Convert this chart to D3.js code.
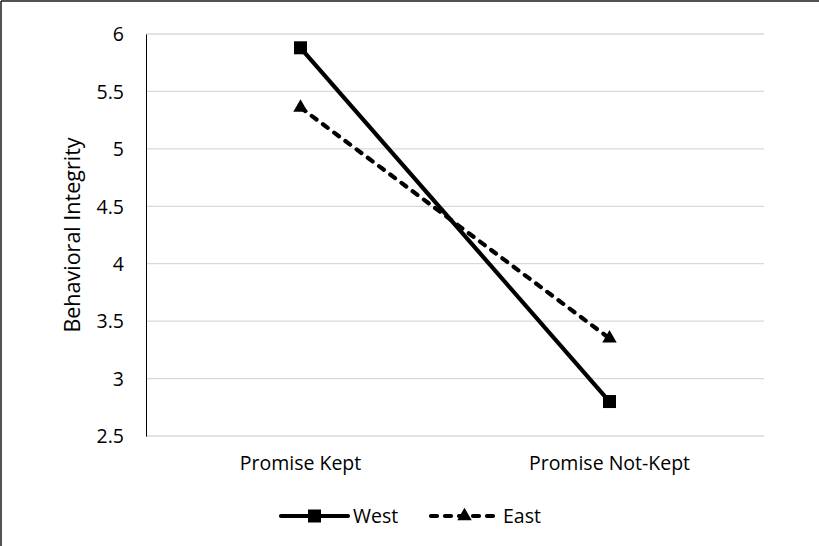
<!DOCTYPE html>
<html><head><meta charset="utf-8">
<script src="https://cdn.jsdelivr.net/npm/d3@7"></script>
<style>
html,body{margin:0;padding:0;background:#fff;}
svg text{font-family:"Open Sans",Lato,sans-serif;fill:#000;}
</style></head>
<body>
<svg id="chart" width="819" height="546"></svg>
<script>
const categories = ["Promise Kept", "Promise Not-Kept"];
const seriesNames = ["West", "East"];
const westValues = [5.88, 2.8];
const eastValues = [5.36, 3.35];
const yTicks = [2.5, 3, 3.5, 4, 4.5, 5, 5.5, 6];
const yTitle = "Behavioral Integrity";

const svg = d3.select("#chart");
const W = 819, H = 546;
const m = {left:146, right:55, top:34, bottom:110};
const FS = "19.5px";

// chart border (top and left visible)
svg.append("line").attr("x1",1).attr("x2",W).attr("y1",1).attr("y2",1).attr("stroke","#1a1a1a").attr("stroke-width",1.5);
svg.append("line").attr("x1",1).attr("x2",1).attr("y1",1).attr("y2",H).attr("stroke","#1a1a1a").attr("stroke-width",1.5);

const x = d3.scaleBand().domain(categories).range([m.left, W-m.right]);
const y = d3.scaleLinear().domain([2.5, 6]).range([H-m.bottom, m.top]);

// gridlines
svg.append("g").selectAll("line").data(yTicks).join("line")
  .attr("x1", m.left).attr("x2", W-m.right)
  .attr("y1", d=>y(d)).attr("y2", d=>y(d))
  .attr("stroke","#d9d9d9").attr("stroke-width",1.3);

// y axis
const yAxis = svg.append("g").attr("transform",`translate(${m.left},0)`)
  .call(d3.axisLeft(y).tickValues(yTicks).tickSize(0).tickPadding(22).tickFormat(d=>String(d)));
yAxis.select(".domain").attr("stroke","#000").attr("stroke-width",1);
yAxis.selectAll("text").style("font-size",FS).attr("dy","0.35em");

// x axis labels
const xAxis = svg.append("g").attr("transform",`translate(0,${H-m.bottom})`)
  .call(d3.axisBottom(x).tickSize(0).tickPadding(20));
xAxis.select(".domain").remove();
xAxis.selectAll("text").style("font-size",FS);

// y title
svg.append("text").attr("transform",`translate(80,${(y(2.5)+y(6))/2}) rotate(-90)`)
  .attr("text-anchor","middle").style("font-size","21.5px").text(yTitle);

const cx = d => x(d) + x.bandwidth()/2;
const line = d3.line().x(d=>cx(d.c)).y(d=>y(d.v));
const westData = categories.map((c,i)=>({c, v:westValues[i]}));
const eastData = categories.map((c,i)=>({c, v:eastValues[i]}));

svg.append("path").datum(eastData).attr("d",line).attr("fill","none")
  .attr("stroke","#000").attr("stroke-width",4.2).attr("stroke-linecap","round")
  .attr("stroke-dasharray","6,8");
svg.append("path").datum(westData).attr("d",line).attr("fill","none")
  .attr("stroke","#000").attr("stroke-width",4.2);

const sq = d3.symbol().type(d3.symbolSquare).size(169);
const tri = d3.symbol().type(d3.symbolTriangle).size(90);
svg.append("g").selectAll("path").data(westData).join("path")
  .attr("transform", d=>`translate(${cx(d.c)},${y(d.v)})`).attr("d", sq).attr("fill","#000");
svg.append("g").selectAll("path").data(eastData).join("path")
  .attr("transform", d=>`translate(${cx(d.c)},${y(d.v)})`).attr("d", tri).attr("fill","#000");

// legend
const lg = svg.append("g");
const legendY = 516;
const items = [{name:seriesNames[0], x0:281, sym:sq, dash:null},{name:seriesNames[1], x0:431, sym:tri, dash:"6,8"}];
items.forEach(it=>{
  lg.append("line").attr("x1",it.x0).attr("x2",it.x0+67).attr("y1",legendY).attr("y2",legendY)
    .attr("stroke","#000").attr("stroke-width",4.2).attr("stroke-linecap","round")
    .attr("stroke-dasharray", it.dash);
  lg.append("path").attr("transform",`translate(${it.x0+33.5},${legendY})`).attr("d",it.sym).attr("fill","#000");
  lg.append("text").attr("x",it.x0+72).attr("y",legendY).attr("dy","0.35em").style("font-size",FS).text(it.name);
});
</script>
</body></html>
